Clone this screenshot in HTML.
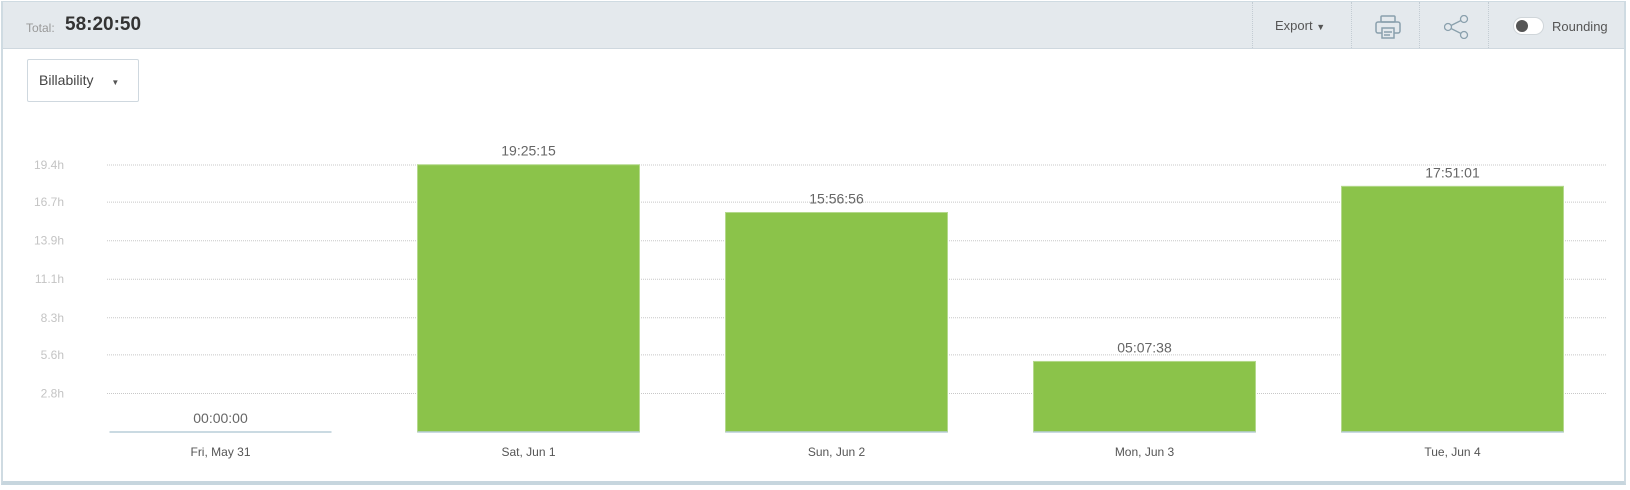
<!DOCTYPE html>
<html><head><meta charset="utf-8"><style>
body{margin:0;width:1630px;height:490px;background:#fff;font-family:"Liberation Sans",sans-serif;overflow:hidden}
#card{position:absolute;left:1px;top:1px;width:1625px;height:484px;border:2px solid #cfdbe2;border-bottom:4px solid #c7d6de;border-top:1px solid #cfdbe2;box-sizing:border-box}
#hdr{position:absolute;left:0;top:0;width:100%;height:46px;background:#e4e9ed;border-bottom:1px solid #cfd8df}
.sep{position:absolute;top:0;height:46px;border-left:1px dotted #c3ccd3}
</style></head><body>
<div id="card">
<div id="hdr">
<span style="position:absolute;left:23px;top:19px;font-size:12px;color:#999">Total:</span>
<span style="position:absolute;left:62px;top:12px;font-size:19px;font-weight:bold;color:#333">58:20:50</span>
<div class="sep" style="left:1249px"></div><div class="sep" style="left:1348px"></div><div class="sep" style="left:1416px"></div><div class="sep" style="left:1485px"></div>
<span style="position:absolute;left:1272px;top:16px;font-size:13px;color:#555">Export <span style="font-size:9px">▼</span></span>
<svg style="position:absolute;left:1372px;top:13px" width="26" height="24" viewBox="0 0 26 24" fill="none" stroke="#8aa0ad" stroke-width="1.5"><rect x="6" y="1" width="14" height="6" rx="1"/><rect x="1" y="7" width="24" height="11" rx="2"/><rect x="7" y="13" width="12" height="10" fill="#e4e9ed"/><line x1="9" y1="17" x2="17" y2="17"/><line x1="9" y1="20" x2="15" y2="20"/></svg>
<svg style="position:absolute;left:1441px;top:13px" width="26" height="24" viewBox="0 0 26 24" fill="none" stroke="#8aa0ad" stroke-width="1.3"><circle cx="20" cy="4" r="3.5"/><circle cx="20" cy="20" r="3.5"/><circle cx="4" cy="12" r="3.5"/><line x1="7" y1="10.5" x2="17" y2="5.5"/><line x1="7" y1="13.5" x2="17" y2="18.5"/></svg>
<div style="position:absolute;left:1510px;top:15px;width:29px;height:16px;border-radius:9px;background:#fff;border:1px solid #d0d6da"><div style="position:absolute;left:2px;top:2px;width:12px;height:12px;border-radius:50%;background:#555"></div></div>
<span style="position:absolute;left:1549px;top:17px;font-size:13px;color:#555">Rounding</span>
</div>
<div style="position:absolute;left:24px;top:57px;width:112px;height:43px;border:1px solid #cfd8df;border-radius:2px;box-sizing:border-box;font-size:14px;color:#444;line-height:41px;padding-left:11px">Billability <span style="font-size:8px;margin-left:14px;color:#555">▼</span></div>
</div>
<svg id="chart" width="1630" height="490" style="position:absolute;left:0;top:0"></svg>
<script>
const categories=["Fri, May 31","Sat, Jun 1","Sun, Jun 2","Mon, Jun 3","Tue, Jun 4"];
const hours=[0,19.421,15.949,5.127,17.850];
const valueLabels=["00:00:00","19:25:15","15:56:56","05:07:38","17:51:01"];
const tickValues=[2.8,5.6,8.3,11.1,13.9,16.7,19.4];
const tickLabels=["2.8h","5.6h","8.3h","11.1h","13.9h","16.7h","19.4h"];
const NS="http://www.w3.org/2000/svg",svg=document.getElementById('chart');
const base=432,pxPerH=267/19.4,left=66.5,band=308,barW=222;
const y=v=>base-v*pxPerH, xc=i=>left+band*(i+0.5);
function mk(t,a,txt){const e=document.createElementNS(NS,t);for(const k in a)e.setAttribute(k,a[k]);if(txt!==undefined)e.textContent=txt;svg.appendChild(e);return e;}
tickValues.forEach((v,i)=>{
 const g=mk('line',{x1:107,x2:1607,y1:y(v),y2:y(v),stroke:'#c8c8c8','stroke-dasharray':'1,1'});
 
 
 const t=mk('text',{x:64,y:y(v)+4,'text-anchor':'end','font-size':12,fill:'#c4c4c4','font-family':'Liberation Sans'},tickLabels[i]);
 
 
});
categories.forEach((c,i)=>{
 const x=xc(i)-barW/2,h=hours[i]*pxPerH;
 if(h>0){const b=mk('rect',{x:x,y:y(hours[i]),width:barW,height:h,fill:'#8bc34a',stroke:'#b5d98d','stroke-width':1});
 
 }
 mk('line',{x1:x,x2:x+barW,y1:base,y2:base,stroke:'#b8cdd8','stroke-width':1.5});
 const v=mk('text',{x:xc(i),y:y(hours[i])-9,'text-anchor':'middle','font-size':14,fill:'#666','font-family':'Liberation Sans'},valueLabels[i]);
 
 
 const l=mk('text',{x:xc(i),y:456,'text-anchor':'middle','font-size':12,fill:'#555','font-family':'Liberation Sans'},c);
 
 
});
</script>
</body></html>
